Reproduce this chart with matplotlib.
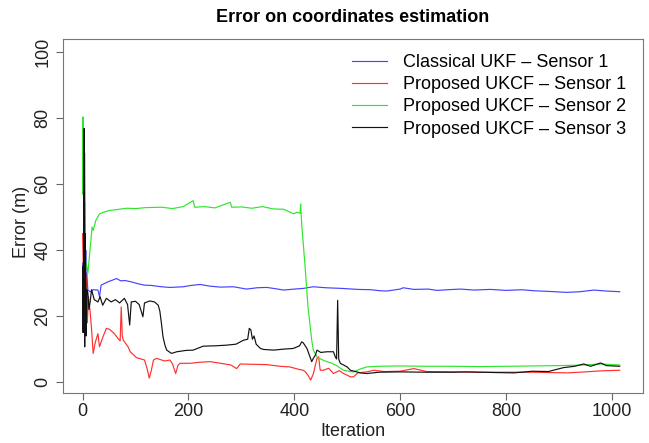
import matplotlib
matplotlib.use("Agg")
import matplotlib.pyplot as plt

plt.rcParams['font.family'] = ['Liberation Sans', 'DejaVu Sans']

# values (iteration, error in m)
ukf_s1_iter = [0, 2, 4, 5, 6, 7, 8, 10, 14, 20, 29, 32, 35, 48, 58, 64, 72, 80, 92, 105,
               117, 130, 149, 165, 190, 205, 222, 240, 260, 285, 310, 330, 348, 365, 380,
               400, 417, 436, 460, 490, 520, 545, 562, 575, 600, 606, 626, 653, 670, 690,
               714, 740, 770, 800, 830, 852, 880, 915, 940, 966, 990, 1015]
ukf_s1_err = [36, 22, 54.6, 30, 40, 24, 33, 27.9, 27.4, 28, 27.9, 25.9, 29.4, 30.4, 31, 31.4,
              30.7, 30.8, 30.4, 29.8, 29.4, 29.3, 28.9, 28.7, 28.9, 29.3, 29.6, 29.1, 28.8,
              28.9, 28.2, 28.6, 28.7, 28.3, 27.9, 28.2, 28.4, 28.9, 28.6, 28.4, 28.1, 28.0,
              27.7, 27.6, 28.2, 28.6, 28.1, 28.2, 27.8, 28.0, 28.2, 27.9, 28.1, 27.8, 28.0,
              27.7, 27.5, 27.2, 27.4, 27.9, 27.6, 27.4]

ukcf_s1_iter = [0, 2, 4, 5, 6, 7, 9, 11, 14, 17, 20, 24, 29, 32, 38, 45, 51, 60, 67, 71, 73,
                75, 77, 86, 90, 102, 117, 122, 126, 130, 134, 140, 155, 165, 170, 176, 180,
                184, 203, 220, 241, 265, 280, 291, 298, 320, 348, 373, 392, 410, 417, 421,
                426, 431, 436, 443, 446, 449, 455, 465, 474, 485, 493, 500, 506, 512, 520,
                537, 550, 570, 600, 626, 650, 700, 750, 800, 850, 916, 950, 979, 1015]
ukcf_s1_err = [45, 30, 69.4, 40, 20, 32, 18, 26, 21.8, 16, 8.7, 12, 14.7, 10.7, 13.5, 16.3,
               16.0, 14.7, 13.2, 12.5, 22.8, 14.0, 12.7, 10.7, 9.2, 7.4, 6.7, 4, 1.2, 3.6,
               6.7, 7.2, 6.4, 6.7, 5.5, 2.6, 5, 5.7, 5.7, 6.0, 6.2, 5.6, 5.2, 4.1, 5.5, 5.4,
               5.3, 4.8, 4.6, 3.8, 3.6, 3.1, 2.1, 0.6, 2.5, 7.2, 7.7, 3.6, 3.6, 4.2, 2.6,
               3.5, 2.6, 2.1, 1.6, 1.6, 2.8, 3.1, 3.6, 3.2, 3.3, 4.1, 3.2, 3.1, 3.0, 3.0,
               3.0, 2.8, 3.1, 3.4, 3.6]

ukcf_s2_iter = [0, 1, 3, 5, 7, 10, 14, 18, 20, 25, 32, 40, 50, 65, 83, 100, 120, 150, 170,
                190, 209, 212, 230, 250, 279, 282, 300, 320, 340, 360, 380, 399, 405, 411,
                412, 414, 420, 426, 433, 436, 443, 455, 462, 470, 480, 493, 505, 512, 525,
                537, 560, 600, 650, 700, 750, 800, 850, 900, 950, 979, 1015]
ukcf_s2_err = [57, 80.4, 28, 35, 36, 33, 40, 47, 46, 49, 51, 51.5, 52, 52.3, 52.7, 52.6,
               52.9, 53.0, 52.6, 53.2, 55, 53, 53.2, 52.8, 54.5, 53, 53.1, 52.7, 53.2, 52.5,
               52.4, 51, 51.5, 51.2, 54, 48, 36, 22.7, 12.7, 9.7, 7.6, 6.6, 6.2, 5.8, 5.0,
               3.6, 3.2, 3.1, 4.0, 4.6, 4.8, 4.9, 4.8, 4.8, 4.7, 4.8, 4.9, 5.0, 5.2, 5.5, 5.2]

ukcf_s3_iter = [0, 1, 2, 3, 4, 5, 6, 7, 8, 10, 12, 14, 17, 22, 29, 33, 38, 45, 54, 62, 70,
                79, 85, 89, 92, 100, 107, 114, 117, 127, 136, 143, 146, 149, 152, 156, 159,
                168, 178, 195, 209, 228, 250, 272, 290, 304, 312, 315, 318, 321, 324, 328,
                336, 342, 361, 380, 398, 410, 414, 417, 424, 433, 436, 440, 443, 450, 462,
                474, 478, 480, 482, 484, 487, 493, 500, 506, 525, 537, 560, 600, 650, 700,
                726, 780, 815, 850, 880, 909, 930, 947, 960, 979, 990, 1015]
ukcf_s3_err = [35, 15, 40, 76.9, 10.7, 45, 30, 14, 28, 27, 22, 24, 28, 25, 24.3, 25.9, 23.3,
               25.4, 24.3, 25.0, 24.0, 25.4, 23.5, 17.3, 24.3, 24.5, 23.5, 19.8, 24.0, 24.6,
               24.3, 23.3, 21.5, 17.8, 13.7, 11.0, 9.7, 8.7, 9.2, 9.6, 9.7, 10.9, 11.0, 11.2,
               11.5, 12.7, 13.0, 16.3, 15.8, 13.0, 14.0, 11.5, 10.2, 9.9, 9.7, 10.0, 10.2,
               11.0, 12.2, 11.9, 10.2, 6.2, 7.2, 8.2, 9.7, 9.0, 9.2, 9.2, 7.5, 7.0, 24.8,
               7.0, 5.7, 5.2, 4.6, 3.6, 2.8, 2.6, 3.0, 3.1, 3.0, 3.0, 3.1, 2.9, 2.8, 3.3,
               3.2, 4.4, 4.8, 5.5, 4.8, 5.8, 5.0, 4.8]

labels = ["Classical UKF \u2013 Sensor 1", "Proposed UKCF \u2013 Sensor 1",
          "Proposed UKCF \u2013 Sensor 2", "Proposed UKCF \u2013 Sensor 3"]
colors = ["#4444ff", "#ff3030", "#2ee62e", "#111111"]

W, H = 649, 443
fig = plt.figure(figsize=(W / 100, H / 100), dpi=100)
ax = fig.add_axes([63 / W, (H - 393) / H, 580 / W, 354 / H])

series = [(ukf_s1_iter, ukf_s1_err), (ukcf_s1_iter, ukcf_s1_err),
          (ukcf_s2_iter, ukcf_s2_err), (ukcf_s3_iter, ukcf_s3_err)]
for (xs, ys), c, lab in zip(series, colors, labels):
    ax.plot(xs, ys, color=c, lw=0.85, label=lab)

ax.set_xlim(-37, 1059)
ax.set_ylim(-3.3, 104)
ax.set_xticks([0, 200, 400, 600, 800, 1000])
ax.set_yticks([0, 20, 40, 60, 80, 100])
ax.tick_params(direction='out', length=5, width=0.8, color='#666666',
               labelsize=13, labelcolor='#222222')
ax.tick_params(axis='x', pad=2.5)
ax.tick_params(axis='y', pad=3.5)
for lab in ax.get_yticklabels():
    lab.set_rotation(90)
    lab.set_va('center')
for sp in ax.spines.values():
    sp.set_color('#777777')
    sp.set_linewidth(0.8)

fig.text(353 / W, 1 - 17 / H, "Error on coordinates estimation", ha='center',
         va='center', fontsize=13, fontweight='bold')
fig.text(353 / W, 1 - 432 / H, "Iteration", ha='center', va='center', fontsize=13,
         color='#222222')
fig.text(21 / W, 1 - 222 / H, "Error (m)", ha='center', va='center', rotation=90,
         fontsize=13, color='#222222')

ax.legend(loc='upper left', bbox_to_anchor=(352 / W, 1 - 54 / H),
          bbox_transform=fig.transFigure, frameon=False, borderpad=0,
          borderaxespad=0, handlelength=1.95, handletextpad=0.85,
          labelspacing=0.29, fontsize=13)

fig.savefig("out.png", dpi=100)
